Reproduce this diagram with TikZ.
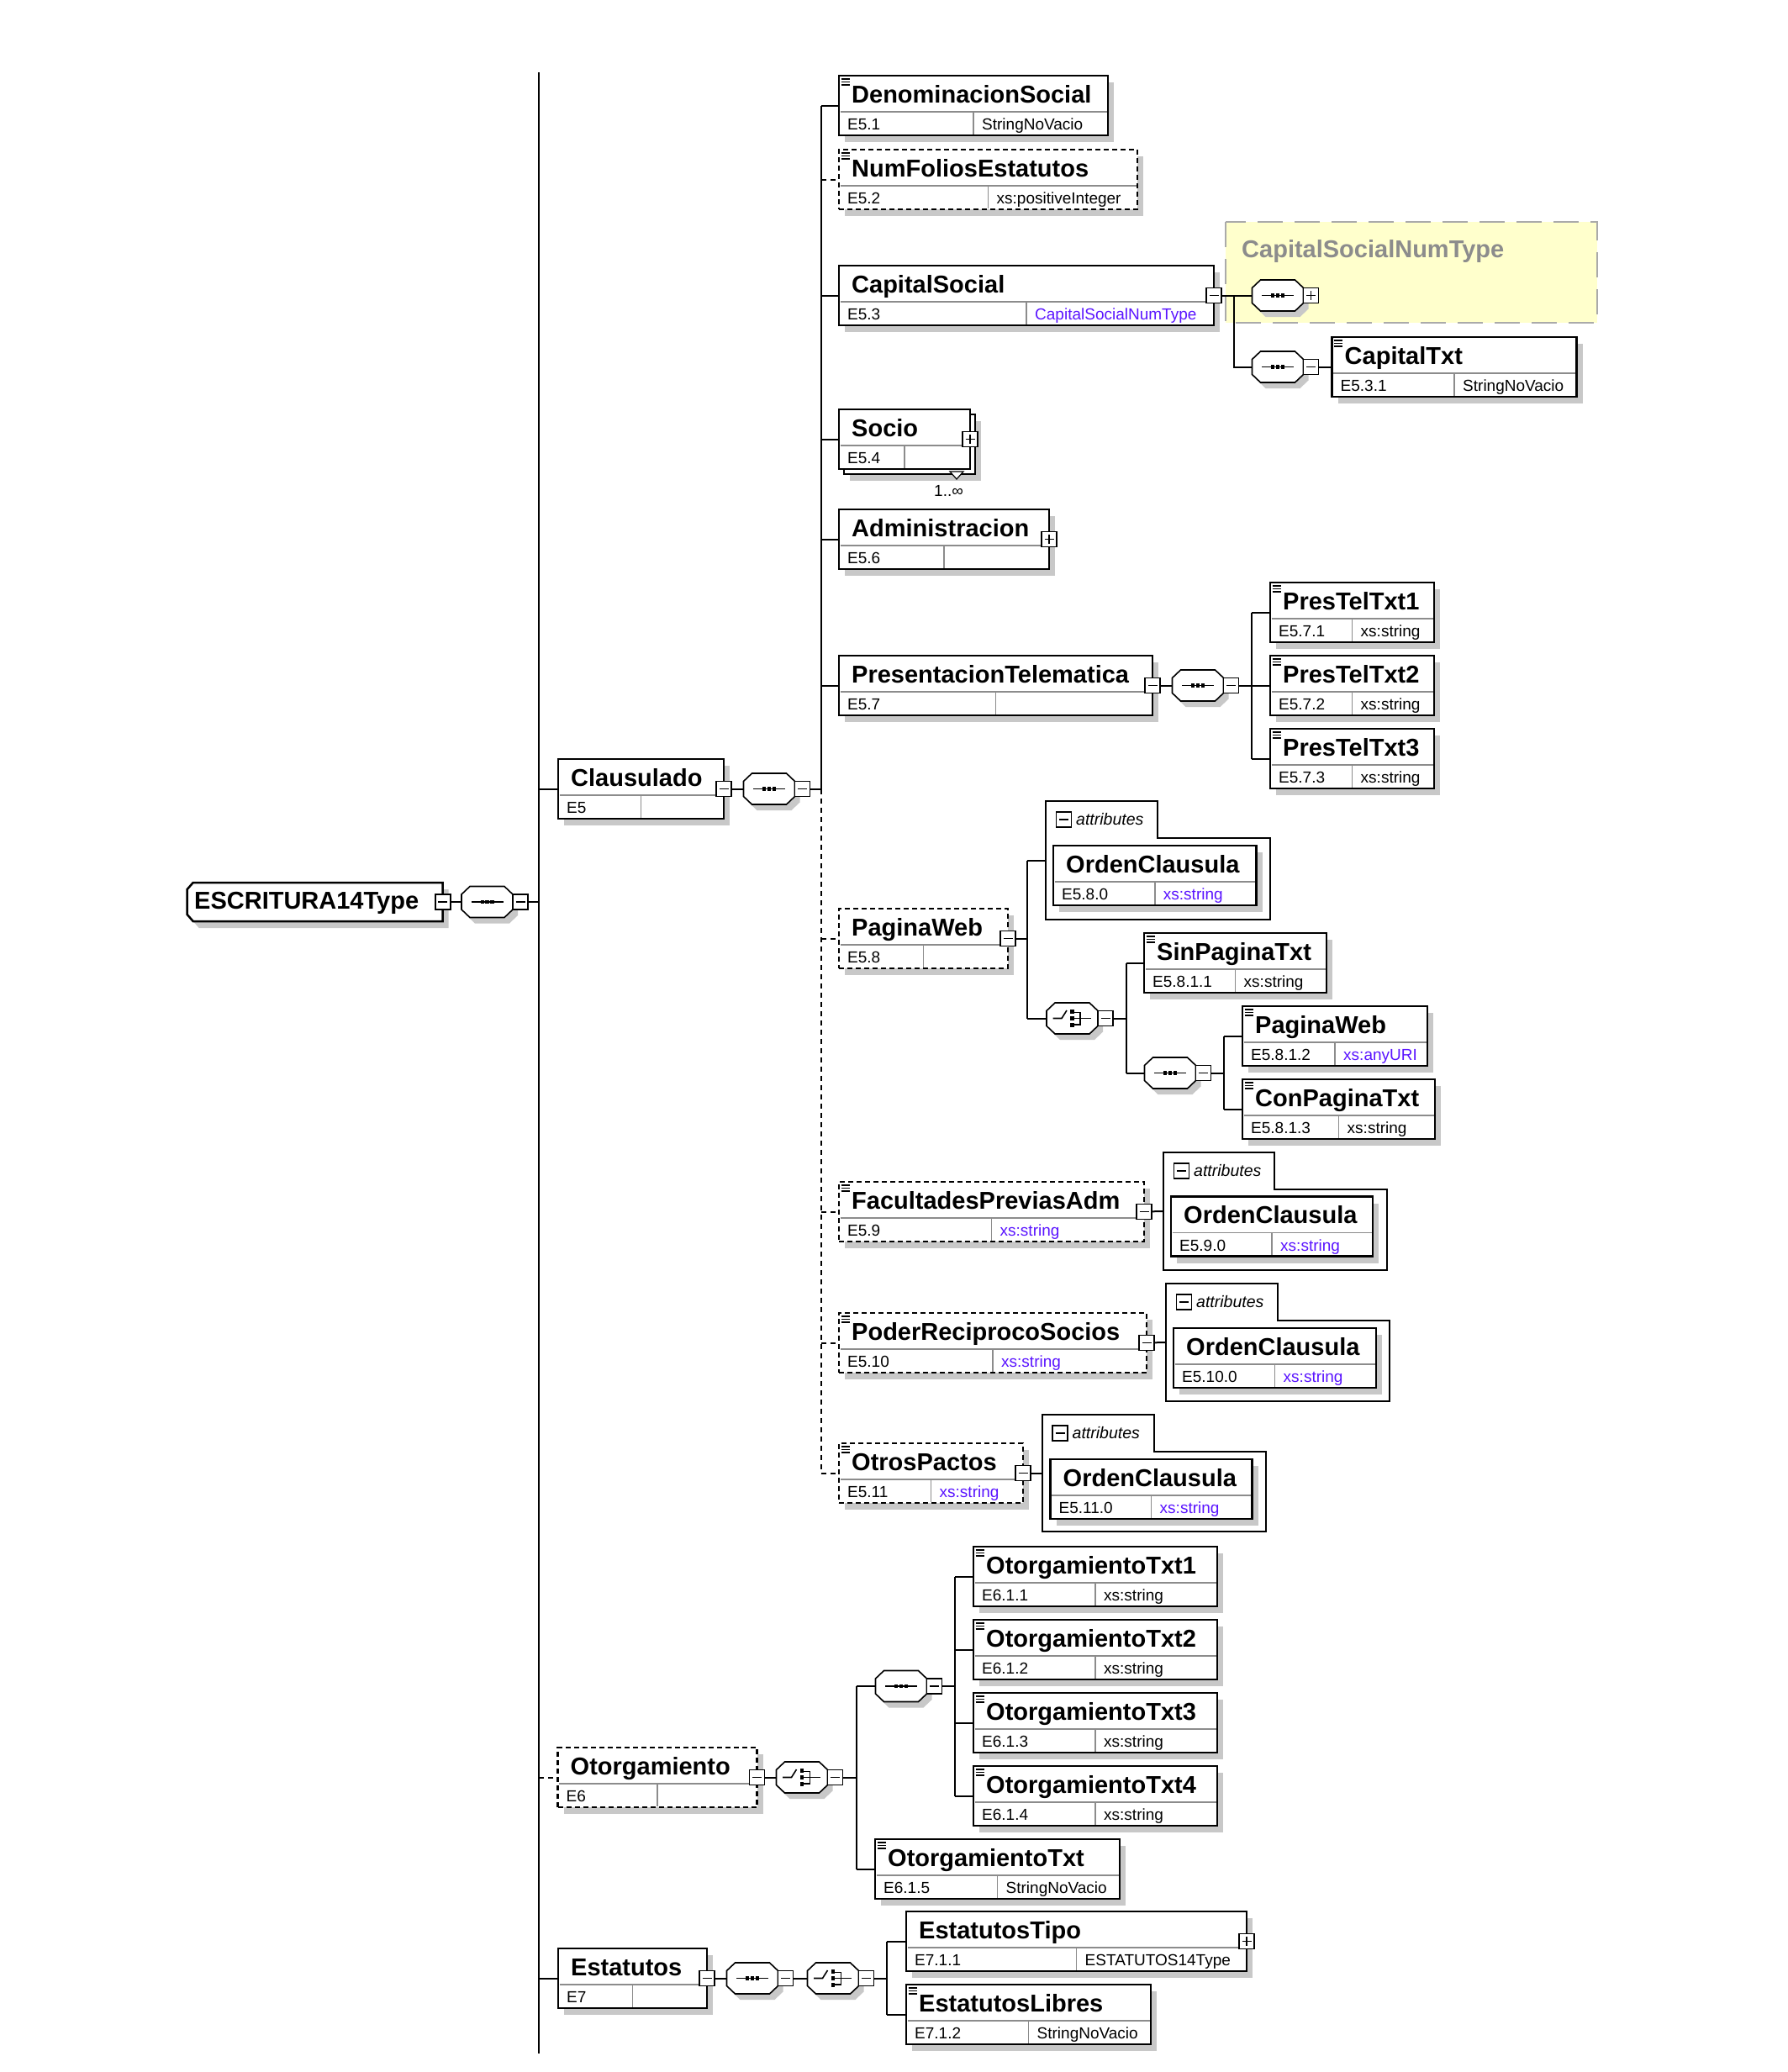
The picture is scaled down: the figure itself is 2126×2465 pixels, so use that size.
\documentclass[tikz,border=0pt]{standalone}
\usepackage{fontspec}
\setmainfont{Liberation Sans}
\usetikzlibrary{calc,shadows}
\definecolor{typec}{RGB}{90,20,255}
\definecolor{shadowc}{RGB}{200,200,200}
\definecolor{divc}{RGB}{140,140,140}
\definecolor{yel}{RGB}{255,255,204}
\definecolor{yelb}{RGB}{170,170,170}
\definecolor{greytxt}{RGB}{140,140,140}
\tikzset{
  conn/.style={line width=2pt},
  dconn/.style={line width=2pt, dash pattern=on 6pt off 5pt},
  eshadow/.style={drop shadow={shadow xshift=7pt, shadow yshift=-8pt, fill=shadowc, opacity=1}},
  ebox/.style={rectangle, draw, line width=2.5pt, fill=white, minimum height=71pt, inner sep=0pt, outer sep=0pt, eshadow},
  optbox/.style={dash pattern=on 6pt off 4pt},
  divl/.style={draw=divc, line width=1.6pt},
  ttl/.style={font=\fontsize{29}{34}\selectfont\bfseries, inner sep=0pt},
  sml/.style={font=\fontsize{19}{22}\selectfont, inner sep=0pt},
  attrtxt/.style={font=\fontsize{19.5}{22}\selectfont\itshape, inner sep=0pt},
  tog/.style={rectangle, draw, fill=white, line width=1.6pt, minimum size=18pt, inner sep=0pt},
  togminus/.style={tog, path picture={\draw[line width=1.6pt] ([xshift=3.5pt]path picture bounding box.west) -- ([xshift=-3.5pt]path picture bounding box.east);}},
  togplus/.style={tog, path picture={\draw[line width=1.6pt] ([xshift=3.5pt]path picture bounding box.west) -- ([xshift=-3.5pt]path picture bounding box.east) ([yshift=-3.5pt]path picture bounding box.north) -- ([yshift=3.5pt]path picture bounding box.south);}},
  compbox/.style={rectangle, minimum width=61pt, minimum height=37pt, inner sep=0pt, outer sep=0pt},
  seqsym/.pic={
    \fill[shadowc] (-14.5,-11.5) -- (26.5,-11.5) -- (36.5,-2) -- (36.5,16) -- (26.5,25.5) -- (-14.5,25.5) -- (-24.5,16) -- (-24.5,-2) -- cycle;
    \draw[line width=1.6pt, fill=white] (-20.5,-18.5) -- (20.5,-18.5) -- (30.5,-9) -- (30.5,9) -- (20.5,18.5) -- (-20.5,18.5) -- (-30.5,9) -- (-30.5,-9) -- cycle;
    \draw[line width=1.6pt] (-19,0) -- (19,0);
    \fill (-8,-2.2) rectangle (-3.6,2.2);
    \fill (-2.2,-2.2) rectangle (2.2,2.2);
    \fill (3.6,-2.2) rectangle (8,2.2);
  },
  choicesym/.pic={
    \fill[shadowc] (-14.5,-11.5) -- (26.5,-11.5) -- (36.5,-2) -- (36.5,16) -- (26.5,25.5) -- (-14.5,25.5) -- (-24.5,16) -- (-24.5,-2) -- cycle;
    \draw[line width=1.6pt, fill=white] (-20.5,-18.5) -- (20.5,-18.5) -- (30.5,-9) -- (30.5,9) -- (20.5,18.5) -- (-20.5,18.5) -- (-30.5,9) -- (-30.5,-9) -- cycle;
    \draw[line width=1.6pt] (-23,0) -- (-12.5,0) -- (-6.5,-9.5);
    \fill (-2.3,-10.3) rectangle (2.1,-5.9);
    \fill (-2.3,-2.2) rectangle (2.1,2.2);
    \fill (-2.3,5.9) rectangle (2.1,10.3);
    \draw[line width=1.6pt] (2,-7) -- (9.5,-7) -- (9.5,7.5) -- (2,7.5);
    \draw[line width=1.6pt] (2,0) -- (22,0);
  }
}
% element box: name, extra style, left, top, width, title, id, type
\newcommand{\elem}[8]{%
  \node[#2,ebox,minimum width=#5pt] (#1) at ({#3+#5/2},{#4+35.5}) {};
  \draw[divl] ({#3+1.5},{#4+43}) -- ({#3+#5-1.5},{#4+43});
  \draw[divl] ({#3+#5/2},{#4+43}) -- ({#3+#5/2},{#4+69.5});
  \node[ttl,anchor=base west] (#1-t) at ({#3+15},{#4+32}) {#6};
  \node[sml,anchor=base west] (#1-i) at ({#3+10},{#4+64.5}) {#7};
  \node[sml,anchor=base west] (#1-y) at ({#3+#5/2+10},{#4+64.5}) {#8};
}
\newcommand{\ticon}[1]{\draw[line width=1.3pt] ([xshift=2.5pt,yshift=-4pt]#1.north west) -- ++(10,0) ([xshift=2.5pt,yshift=-7.5pt]#1.north west) -- ++(10,0) ([xshift=2.5pt,yshift=-11pt]#1.north west) -- ++(10,0);}
% compositor: name, cx, cy, pic, toggle style
\newcommand{\compo}[5]{\node[compbox] (#1) at (#2,#3) {}; \pic at (#2,#3) {#4}; \node[#5] (#1m) at ({#2+39.5},#3) {};}
% attribute group: name, L, T, tabR, tabB, R, B
\newcommand{\attrgrp}[7]{%
  \draw[line width=2pt, fill=white] (#2,#3) -- (#4,#3) -- (#4,#5) -- (#6,#5) -- (#6,#7) -- (#2,#7) -- cycle;
  \coordinate (#1) at (#2,{(#3+#7)/2});
  \node[togminus] (#1-m) at ({#2+21.5},{#3+22}) {};
  \node[attrtxt,anchor=base west] (#1-t) at ({#2+36},{#3+28.5}) {attributes};
}
\newcommand{\tc}[1]{\textcolor{typec}{#1}}
\begin{document}
\begin{tikzpicture}[x=1pt,y=-1pt]
\useasboundingbox (0,0) rectangle (2126,2465);
\fill[white] (0,0) rectangle (2126,2465);

% ---------- yellow type area
\draw[draw=yelb, fill=yel, line width=2pt, dash pattern=on 30pt off 14pt] (1458,264) rectangle (1900,384);
\node[ttl, text=greytxt, anchor=base west] (csnt) at (1477,306) {CapitalSocialNumType};

% ---------- root
\node[rectangle, minimum width=304pt, minimum height=46pt, inner sep=0pt, outer sep=0pt] (root) at (374.7,1073) {};
\fill[shadowc] (236.7,1058) -- (533.7,1058) -- (533.7,1104) -- (236.7,1104) -- (229.7,1096) -- (229.7,1066) -- cycle;
\draw[line width=2.5pt, fill=white] (229.7,1050) -- (526.7,1050) -- (526.7,1096) -- (229.7,1096) -- (222.7,1088) -- (222.7,1058) -- cycle;
\node[ttl, anchor=base west] (root-t) at (231,1081) {ESCRITURA14Type};
\node[togminus] (root-m) at (526.7,1073) {};
\compo{root-c}{579.5}{1073}{seqsym}{togminus}

% ---------- level 1
\elem{Clausulado}{}{664}{903}{197}{Clausulado}{E5}{}
\node[togminus] (Clausulado-m) at (861,938.5) {};
\compo{cl-c}{915}{938.5}{seqsym}{togminus}

\elem{Otorg}{optbox}{663.5}{2079}{237}{Otorgamiento}{E6}{}
\node[togminus] (Otorg-m) at (900.5,2114.5) {};
\compo{ot-c}{954}{2114.5}{choicesym}{togminus}
\compo{ot2-c}{1072}{2006}{seqsym}{togminus}

\elem{Estatutos}{}{664}{2318}{177}{Estatutos}{E7}{}
\node[togminus] (Estatutos-m) at (841,2353.5) {};
\compo{es-c}{895}{2353.5}{seqsym}{togminus}
\compo{es2-c}{991}{2353.5}{choicesym}{togminus}

% ---------- Clausulado children
\elem{Den}{}{998}{90}{320}{DenominacionSocial}{E5.1}{StringNoVacio}\ticon{Den}
\elem{NumF}{optbox}{998}{178}{355}{NumFoliosEstatutos}{E5.2}{xs:positiveInteger}\ticon{NumF}
\elem{CapS}{}{998}{316}{446}{CapitalSocial}{E5.3}{\tc{CapitalSocialNumType}}
\node[togminus] (CapS-m) at (1444,351.5) {};
\compo{cs1-c}{1520}{351.5}{seqsym}{togplus}
\compo{cs2-c}{1520}{436.5}{seqsym}{togminus}
\elem{CapitalTxt}{}{1584.5}{401}{291}{CapitalTxt}{E5.3.1}{StringNoVacio}\ticon{CapitalTxt}

\node[ebox, minimum width=156pt] (SocioBack) at (1082,528.5) {};
\elem{Socio}{eshadow/.style={}}{998}{487}{156}{Socio}{E5.4}{}
\node[togplus] (Socio-m) at (1154,522.5) {};
\draw[line width=1.2pt, fill=white] (1130,561) -- (1146,561) -- (1138,570) -- cycle;
\node[sml, anchor=base west] (Socio-occ) at (1111,590) {1..∞};

\elem{Admin}{}{998}{606}{250}{Administracion}{E5.6}{}
\node[togplus] (Admin-m) at (1248,641.5) {};

\elem{PT}{}{998}{780}{373}{PresentacionTelematica}{E5.7}{}
\node[togminus] (PT-m) at (1371,815.5) {};
\compo{pt-c}{1425}{815.5}{seqsym}{togminus}
\elem{PTT1}{}{1511}{693}{195}{PresTelTxt1}{E5.7.1}{xs:string}\ticon{PTT1}
\elem{PTT2}{}{1511}{780}{195}{PresTelTxt2}{E5.7.2}{xs:string}\ticon{PTT2}
\elem{PTT3}{}{1511}{867}{195}{PresTelTxt3}{E5.7.3}{xs:string}\ticon{PTT3}

\elem{PW}{optbox}{998}{1081}{201}{PaginaWeb}{E5.8}{}
\node[togminus] (PW-m) at (1199,1116.5) {};
\attrgrp{PWa}{1244}{953}{1377}{997}{1511}{1094}
\elem{PWOrd}{}{1253}{1006}{241.5}{OrdenClausula}{E5.8.0}{\tc{xs:string}}
\compo{pw-c}{1275.5}{1211.5}{choicesym}{togminus}
\elem{SinPag}{}{1361}{1110}{217}{SinPaginaTxt}{E5.8.1.1}{xs:string}\ticon{SinPag}
\compo{pw2-c}{1392}{1276.5}{seqsym}{togminus}
\elem{PWeb}{}{1478}{1197}{220}{PaginaWeb}{E5.8.1.2}{\tc{xs:anyURI}}\ticon{PWeb}
\elem{ConPag}{}{1478}{1284}{229}{ConPaginaTxt}{E5.8.1.3}{xs:string}\ticon{ConPag}

\elem{Fac}{optbox}{998}{1406}{363}{FacultadesPreviasAdm}{E5.9}{\tc{xs:string}}\ticon{Fac}
\node[togminus] (Fac-m) at (1361,1441.5) {};
\attrgrp{Faca}{1384}{1371}{1516}{1415}{1650}{1511}
\elem{FacOrd}{}{1393}{1423.5}{240}{OrdenClausula}{E5.9.0}{\tc{xs:string}}

\elem{Pod}{optbox}{998}{1562}{366}{PoderReciprocoSocios}{E5.10}{\tc{xs:string}}\ticon{Pod}
\node[togminus] (Pod-m) at (1364,1597.5) {};
\attrgrp{Poda}{1387}{1527}{1520}{1571}{1653}{1667}
\elem{PodOrd}{}{1396}{1580}{241}{OrdenClausula}{E5.10.0}{\tc{xs:string}}

\elem{Otr}{optbox}{998}{1717}{219}{OtrosPactos}{E5.11}{\tc{xs:string}}\ticon{Otr}
\node[togminus] (Otr-m) at (1217,1752.5) {};
\attrgrp{Otra}{1239.5}{1683}{1373}{1727}{1505.5}{1822}
\elem{OtrOrd}{}{1249.5}{1736}{240}{OrdenClausula}{E5.11.0}{\tc{xs:string}}

% ---------- Otorgamiento children
\elem{OT1}{}{1158}{1840}{290}{OtorgamientoTxt1}{E6.1.1}{xs:string}\ticon{OT1}
\elem{OT2}{}{1158}{1927}{290}{OtorgamientoTxt2}{E6.1.2}{xs:string}\ticon{OT2}
\elem{OT3}{}{1158}{2014}{290}{OtorgamientoTxt3}{E6.1.3}{xs:string}\ticon{OT3}
\elem{OT4}{}{1158}{2101}{290}{OtorgamientoTxt4}{E6.1.4}{xs:string}\ticon{OT4}
\elem{OTT}{}{1041}{2188}{291}{OtorgamientoTxt}{E6.1.5}{StringNoVacio}\ticon{OTT}

% ---------- Estatutos children
\elem{EsT}{}{1078}{2274}{405}{EstatutosTipo}{E7.1.1}{ESTATUTOS14Type}
\node[togplus] (EsT-m) at (1483,2309.5) {};
\elem{EsL}{}{1078}{2361}{291}{EstatutosLibres}{E7.1.2}{StringNoVacio}\ticon{EsL}

% ---------- bus coordinates
\coordinate (LB-top) at (641,86);
\coordinate (LB-bot) at (641,2443);
\coordinate (CB-top) at (977,125.5);
\coordinate (CB-mid) at (977,938.5);
\coordinate (CB-bot) at (977,1752.5);
\coordinate (csJ) at (1467.6,351.5);
\coordinate (PTB) at (1489,815.5);
\coordinate (PWJ) at (1222,1116.5);
\coordinate (PWB) at (1339.5,1211.5);
\coordinate (PW2B) at (1455.5,1276.5);
\coordinate (OTB) at (1019,2114.5);
\coordinate (OT2B) at (1136,2006);
\coordinate (ESB) at (1055,2353.5);

% ---------- connectors
\draw[conn] (LB-top) -- (LB-bot);
\draw[conn] (root-m) -- (root-c);
\draw[conn] (root-cm) -- (root-cm -| LB-top);
\draw[conn] (LB-top |- Clausulado.west) -- (Clausulado.west);
\draw[dconn] (LB-top |- Otorg.west) -- (Otorg.west);
\draw[conn] (LB-top |- Estatutos.west) -- (Estatutos.west);

\draw[conn] (Clausulado-m) -- (cl-c);
\draw[conn] (cl-cm) -- (CB-mid);
\draw[conn] (CB-top) -- (CB-mid);
\draw[dconn] (CB-mid) -- (CB-bot);
\foreach \n in {Den,CapS,Socio,Admin,PT} {\draw[conn] (CB-top |- \n.west) -- (\n.west);}
\foreach \n in {NumF,PW,Fac,Pod,Otr} {\draw[dconn] (CB-top |- \n.west) -- (\n.west);}

\draw[conn] (CapS-m) -- (cs1-c);
\draw[conn] (csJ) |- (cs2-c.west);
\draw[conn] (cs2-cm) -- (CapitalTxt);

\draw[conn] (PT-m) -- (pt-c);
\draw[conn] (pt-cm) -- (PTB);
\draw[conn] (PTB |- PTT1.west) -- (PTB |- PTT3.west);
\foreach \n in {PTT1,PTT2,PTT3} {\draw[conn] (PTB |- \n.west) -- (\n.west);}

\draw[conn] (PW-m) -- (PWJ);
\draw[conn] (PWJ |- PWa) -- (PWJ |- pw-c.west);
\draw[conn] (PWJ |- PWa) -- (PWa);
\draw[conn] (PWJ |- pw-c.west) -- (pw-c.west);
\draw[conn] (pw-cm) -- (PWB);
\draw[conn] (PWB |- SinPag.west) -- (PWB |- pw2-c.west);
\draw[conn] (PWB |- SinPag.west) -- (SinPag.west);
\draw[conn] (PWB |- pw2-c.west) -- (pw2-c.west);
\draw[conn] (pw2-cm) -- (PW2B);
\draw[conn] (PW2B |- PWeb.west) -- (PW2B |- ConPag.west);
\draw[conn] (PW2B |- PWeb.west) -- (PWeb.west);
\draw[conn] (PW2B |- ConPag.west) -- (ConPag.west);

\draw[conn] (Fac-m) -- (Faca);
\draw[conn] (Pod-m) -- (Poda);
\draw[conn] (Otr-m) -- (Otra);

\draw[conn] (Otorg-m) -- (ot-c);
\draw[conn] (ot-cm) -- (OTB);
\draw[conn] (OTB |- ot2-c.west) -- (OTB |- OTT.west);
\draw[conn] (OTB |- ot2-c.west) -- (ot2-c.west);
\draw[conn] (OTB |- OTT.west) -- (OTT.west);
\draw[conn] (ot2-cm) -- (OT2B);
\draw[conn] (OT2B |- OT1.west) -- (OT2B |- OT4.west);
\foreach \n in {OT1,OT2,OT3,OT4} {\draw[conn] (OT2B |- \n.west) -- (\n.west);}

\draw[conn] (Estatutos-m) -- (es-c);
\draw[conn] (es-cm) -- (es2-c);
\draw[conn] (es2-cm) -- (ESB);
\draw[conn] (ESB |- EsT.west) -- (ESB |- EsL.west);
\draw[conn] (ESB |- EsT.west) -- (EsT.west);
\draw[conn] (ESB |- EsL.west) -- (EsL.west);
\end{tikzpicture}
\end{document}
